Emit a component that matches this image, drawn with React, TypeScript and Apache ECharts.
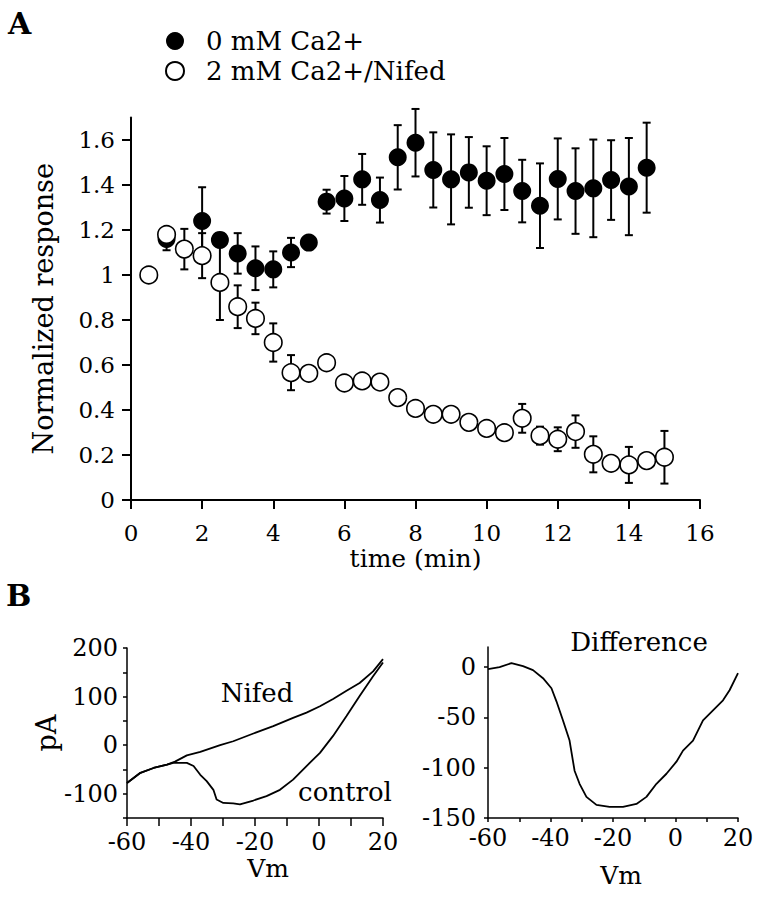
import React, { useEffect, useRef } from 'react';
import * as echarts from 'echarts';

const FONT = "'DejaVu Serif', serif";

// Panel A data (time in min, normalized response, SEM half-width)
const filledTime = [1, 2, 2.5, 3, 3.5, 4, 4.5, 5, 5.5, 6, 6.5, 7, 7.5, 8, 8.5, 9, 9.5, 10, 10.5, 11, 11.5, 12, 12.5, 13, 13.5, 14, 14.5];
const filledMean = [1.16, 1.24, 1.156, 1.096, 1.03, 1.025, 1.1, 1.144, 1.326, 1.34, 1.425, 1.333, 1.523, 1.588, 1.467, 1.425, 1.456, 1.419, 1.449, 1.373, 1.308, 1.427, 1.373, 1.385, 1.422, 1.393, 1.477];
const filledErr = [0.05, 0.15, 0, 0.09, 0.097, 0.08, 0.065, 0, 0.053, 0.1, 0.113, 0.1, 0.143, 0.15, 0.167, 0.2, 0.157, 0.153, 0.16, 0.139, 0.188, 0.18, 0.19, 0.217, 0.177, 0.216, 0.2];

const openTime = [0.5, 1, 1.5, 2, 2.5, 3, 3.5, 4, 4.5, 5, 5.5, 6, 6.5, 7, 7.5, 8, 8.5, 9, 9.5, 10, 10.5, 11, 11.5, 12, 12.5, 13, 13.5, 14, 14.5, 15];
const openMean = [1.0, 1.18, 1.115, 1.086, 0.967, 0.859, 0.807, 0.7, 0.566, 0.563, 0.61, 0.52, 0.529, 0.524, 0.455, 0.407, 0.381, 0.381, 0.345, 0.318, 0.299, 0.363, 0.286, 0.27, 0.304, 0.203, 0.163, 0.156, 0.175, 0.19];
const openErr = [0, 0.03, 0.09, 0.1, 0.167, 0.095, 0.07, 0.085, 0.078, 0.03, 0, 0, 0, 0, 0, 0, 0, 0, 0, 0, 0, 0.064, 0.04, 0.053, 0.072, 0.08, 0, 0.08, 0, 0.117];

const responseTicks = [0, 0.2, 0.4, 0.6, 0.8, 1, 1.2, 1.4, 1.6];

// Panel B data (Vm in mV, current in pA)
const nifedVm = [-60, -55.8, -51.7, -47.5, -45, -41.3, -37.1, -30.9, -26.8, -20.5, -14.3, -8.1, -3.9, 0.3, 4.4, 8.6, 12.7, 16.9, 20];
const nifedPA = [-78, -57, -47, -40, -34, -21, -14, 0, 8, 24, 39, 56, 67, 80, 95, 112, 128, 152, 177];
const controlVm = [-60, -55.8, -51.7, -47.5, -45.5, -41.3, -39.2, -37.1, -35.1, -33, -32, -29.9, -26.8, -24.7, -20.5, -16.4, -12.2, -8.1, -3.9, 0.3, 4.4, 8.6, 12.7, 16.9, 20];
const controlPA = [-78, -57, -47, -40, -36.5, -36.5, -43, -61, -74, -92, -112, -119, -120, -122, -114, -105, -92, -71, -43, -16, 19, 60, 101, 142, 170];
const diffVm = [-60, -56.3, -52.5, -48.8, -45.6, -42.4, -39.7, -38.1, -36, -33.9, -32.3, -30.7, -28.5, -25.3, -21.1, -16.8, -12.5, -9.3, -6.1, -2.9, 0.3, 2.4, 5.6, 8.8, 12, 15.2, 17.3, 20];
const diffPA = [-2, 0, 4, 1, -3, -11, -21, -34, -53, -73, -103, -116, -129, -137, -139, -139, -136, -129, -116, -106, -94, -83, -73, -53, -43, -33, -23, -6];

const vmLabels = [-60, -40, -20, 0, 20];
const leftPALabels = [-100, 0, 100, 200];
const diffTicks = [-150, -100, -50, 0];

function zip(a: number[], b: number[]) {
  return a.map((x, i) => [x, b[i]]);
}

function errorSeries(t: number[], m: number[], e: number[], z: number) {
  const data = t
    .map((x, i) => [x, m[i] - e[i], m[i] + e[i], e[i]])
    .filter((d) => d[3] > 0)
    .map((d) => [d[0], d[1], d[2]]);
  return {
    type: 'custom',
    xAxisIndex: 0,
    yAxisIndex: 0,
    z,
    silent: true,
    encode: { x: 0, y: [1, 2] },
    data,
    renderItem: (params: any, api: any) => {
      const lo = api.coord([api.value(0), api.value(1)]);
      const hi = api.coord([api.value(0), api.value(2)]);
      const hw = 4;
      const style = { stroke: '#000', lineWidth: 2, fill: 'none' };
      return {
        type: 'group',
        children: [
          { type: 'line', shape: { x1: lo[0], y1: lo[1], x2: hi[0], y2: hi[1] }, style },
          { type: 'line', shape: { x1: lo[0] - hw, y1: lo[1], x2: lo[0] + hw, y2: lo[1] }, style },
          { type: 'line', shape: { x1: hi[0] - hw, y1: hi[1], x2: hi[0] + hw, y2: hi[1] }, style },
        ],
      };
    },
  };
}

const black = '#000';

export default function App() {
  const ref = useRef<HTMLDivElement>(null);
  useEffect(() => {
    if (!ref.current) return;
    const chart = echarts.init(ref.current, null, { renderer: 'svg' });
    const labelBase = { color: black, fontFamily: FONT };
    const option: any = {
      animation: false,
      backgroundColor: '#fff',
      textStyle: { fontFamily: FONT, color: black },
      legend: {
        data: ['0 mM Ca2+', '2 mM Ca2+/Nifed'],
        orient: 'vertical',
        left: 160,
        top: 23,
        itemWidth: 52,
        itemHeight: 18,
        itemGap: 4,
        selectedMode: false,
        textStyle: { fontSize: 26, lineHeight: 26, fontFamily: FONT, color: black },
      },
      grid: [
        { left: 131, right: 63, top: 117.5, bottom: 399 },
        { left: 127, right: 380, top: 648, bottom: 81 },
        { left: 488, right: 25, top: 647, bottom: 81 },
      ],
      xAxis: [
        {
          gridIndex: 0,
          type: 'value',
          min: 0,
          max: 16,
          interval: 2,
          splitLine: { show: false },
          axisLine: { onZero: false, lineStyle: { color: black, width: 2 } },
          axisTick: { length: 9, lineStyle: { color: black, width: 2 } },
          axisLabel: { ...labelBase, fontSize: 23, margin: 21 },
          name: 'time (min)',
          nameLocation: 'middle',
          nameGap: 46,
          nameTextStyle: { ...labelBase, fontSize: 25 },
        },
        {
          gridIndex: 1,
          type: 'value',
          min: -60,
          max: 20,
          interval: 10,
          splitLine: { show: false },
          axisLine: { onZero: false, lineStyle: { color: black, width: 1.5 } },
          axisTick: { length: 8, lineStyle: { color: black, width: 1.5 } },
          axisLabel: { ...labelBase, fontSize: 24, margin: 12, customValues: vmLabels },
          name: 'Vm',
          nameLocation: 'middle',
          nameGap: 38,
          nameTextStyle: { ...labelBase, fontSize: 25, padding: [0, 0, 0, 26] },
        },
        {
          gridIndex: 2,
          type: 'value',
          min: -60,
          max: 20,
          interval: 10,
          splitLine: { show: false },
          axisLine: { onZero: false, lineStyle: { color: black, width: 1.5 } },
          axisTick: { length: 4, lineStyle: { color: black, width: 1.5 } },
          axisLabel: { ...labelBase, fontSize: 24, margin: 8, customValues: vmLabels },
          name: 'Vm',
          nameLocation: 'middle',
          nameGap: 45,
          nameTextStyle: { ...labelBase, fontSize: 25, padding: [0, 0, 0, 16] },
        },
      ],
      yAxis: [
        {
          gridIndex: 0,
          type: 'value',
          min: 0,
          max: 1.7,
          splitLine: { show: false },
          axisLine: { onZero: false, lineStyle: { color: black, width: 2 } },
          axisTick: { length: 9, lineStyle: { color: black, width: 2 }, customValues: responseTicks },
          axisLabel: { ...labelBase, fontSize: 23, margin: 16, customValues: responseTicks },
          name: 'Normalized response',
          nameLocation: 'middle',
          nameGap: 74,
          nameTextStyle: { ...labelBase, fontSize: 27 },
        },
        {
          gridIndex: 1,
          type: 'value',
          min: -150,
          max: 200,
          interval: 50,
          splitLine: { show: false },
          axisLine: { onZero: false, lineStyle: { color: black, width: 1.5 } },
          axisTick: { length: 4, lineStyle: { color: black, width: 1.5 } },
          axisLabel: { ...labelBase, fontSize: 24, margin: 9, customValues: leftPALabels },
          name: 'pA',
          nameLocation: 'middle',
          nameGap: 65,
          nameTextStyle: { ...labelBase, fontSize: 27 },
        },
        {
          gridIndex: 2,
          type: 'value',
          min: -150,
          max: 20,
          interval: 50,
          splitLine: { show: false },
          axisLine: { onZero: false, lineStyle: { color: black, width: 1.5 } },
          axisTick: { length: 4, lineStyle: { color: black, width: 1.5 }, customValues: diffTicks },
          axisLabel: { ...labelBase, fontSize: 24, margin: 12, customValues: diffTicks },
        },
      ],
      graphic: [
        { type: 'text', left: 8, top: 8, style: { text: 'A', font: `bold 30px ${FONT}`, fill: black } },
        { type: 'text', left: 6, top: 580, style: { text: 'B', font: `bold 30px ${FONT}`, fill: black } },
        { type: 'text', x: 257, y: 693, style: { text: 'Nifed', font: `26px ${FONT}`, fill: black, textAlign: 'center', textVerticalAlign: 'middle' } },
        { type: 'text', x: 345, y: 792, style: { text: 'control', font: `26px ${FONT}`, fill: black, textAlign: 'center', textVerticalAlign: 'middle' } },
        { type: 'text', x: 639, y: 642, style: { text: 'Difference', font: `26px ${FONT}`, fill: black, textAlign: 'center', textVerticalAlign: 'middle' } },
      ],
      series: [
        errorSeries(filledTime, filledMean, filledErr, 1),
        {
          name: '0 mM Ca2+',
          type: 'scatter',
          xAxisIndex: 0,
          yAxisIndex: 0,
          z: 2,
          symbol: 'circle',
          symbolSize: 18,
          itemStyle: { color: black, borderColor: black, borderWidth: 0, opacity: 1 },
          data: zip(filledTime, filledMean),
        },
        errorSeries(openTime, openMean, openErr, 3),
        {
          name: '2 mM Ca2+/Nifed',
          type: 'scatter',
          xAxisIndex: 0,
          yAxisIndex: 0,
          z: 4,
          symbol: 'circle',
          symbolSize: 17.5,
          itemStyle: { color: '#fff', borderColor: black, borderWidth: 1.6, opacity: 1 },
          data: zip(openTime, openMean),
        },
        {
          name: 'Nifed',
          type: 'line',
          xAxisIndex: 1,
          yAxisIndex: 1,
          showSymbol: false,
          symbol: 'none',
          lineStyle: { color: black, width: 1.8 },
          data: zip(nifedVm, nifedPA),
        },
        {
          name: 'control',
          type: 'line',
          xAxisIndex: 1,
          yAxisIndex: 1,
          showSymbol: false,
          symbol: 'none',
          lineStyle: { color: black, width: 1.8 },
          data: zip(controlVm, controlPA),
        },
        {
          name: 'Difference',
          type: 'line',
          xAxisIndex: 2,
          yAxisIndex: 2,
          showSymbol: false,
          symbol: 'none',
          lineStyle: { color: black, width: 1.8 },
          data: zip(diffVm, diffPA),
        },
      ],
    };
    chart.setOption(option);
    return () => chart.dispose();
  }, []);
  return (
    <div
      ref={ref}
      style={{ position: 'absolute', left: 0, top: 0, width: 763, height: 899, background: '#fff' }}
    />
  );
}
